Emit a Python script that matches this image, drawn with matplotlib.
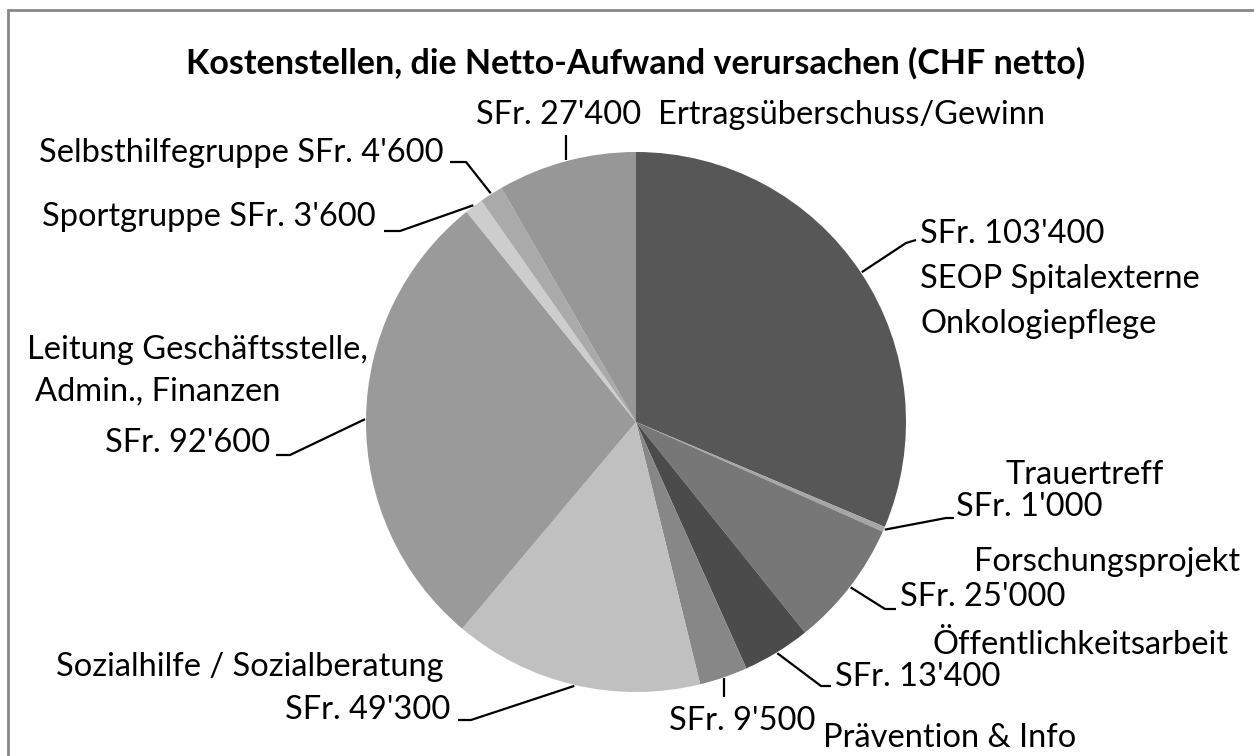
import matplotlib.pyplot as plt
from matplotlib.patches import Rectangle
import numpy as np

plt.rcParams['font.family'] = ['Lato', 'DejaVu Sans']

names = ["SEOP Spitalexterne Onkologiepflege", "Trauertreff", "Forschungsprojekt",
         "Öffentlichkeitsarbeit", "Prävention & Info", "Sozialhilfe / Sozialberatung",
         "Leitung Geschäftsstelle, Admin., Finanzen", "Sportgruppe", "Selbsthilfegruppe",
         "Ertragsüberschuss/Gewinn"]
values = [103400, 1000, 25000, 13400, 9500, 49300, 92600, 3600, 4600, 27400]
colors = ["#575757", "#a6a6a6", "#777777", "#4b4b4b", "#878787",
          "#c0c0c0", "#9a9a9a", "#cdcdcd", "#aaaaaa", "#979797"]
title = "Kostenstellen, die Netto-Aufwand verursachen (CHF netto)"


def sfr(v):
    return "SFr. " + f"{v:,}".replace(",", "'")


W, H = 1254, 756
fig = plt.figure(figsize=(W / 100, H / 100), dpi=100)
ax = fig.add_axes([0, 0, 1, 1])

cx, cy, r = 636, H - 422, 270
wedges, _ = ax.pie(values, colors=colors, startangle=90, counterclock=False,
                   center=(cx, cy), radius=r, frame=True,
                   wedgeprops=dict(linewidth=0))
ax.set_xlim(0, W)
ax.set_ylim(0, H)
ax.axis('off')

fs = 23.5

# label text lines per wedge: (text, x, y, ha) in image pixel coords (y down)
label_lines = [
    [(sfr(values[0]), 920, 234, 'left'), ("SEOP Spitalexterne", 920, 279, 'left'),
     ("Onkologiepflege", 920, 324, 'left')],
    [(names[1], 1006, 475, 'left'), (sfr(values[1]), 956, 507, 'left')],
    [(names[2], 1240, 562, 'right'), (sfr(values[2]), 900, 597, 'left')],
    [(names[3], 1229, 645, 'right'), (sfr(values[3]), 835, 677, 'left')],
    [(sfr(values[4]), 669, 721, 'left'), (names[4], 823, 738, 'left')],
    [(names[5], 56, 667, 'left'), (sfr(values[5]), 450, 710, 'right')],
    [("Leitung Geschäftsstelle,", 27, 350, 'left'), ("Admin., Finanzen", 35, 392, 'left'),
     (sfr(values[6]), 270, 443, 'right')],
    [(names[7] + " " + sfr(values[7]), 376, 217, 'right')],
    [(names[8] + " " + sfr(values[8]), 444, 153, 'right')],
    [(sfr(values[9]) + "  " + names[9], 476, 115, 'left')],
]

# leader line bend points (image coords), drawn from the wedge edge outwards
leaders = [
    [(906, 243), (916, 240)],
    [(946, 518), (954, 518)],
    [(885, 609), (896, 609)],
    [(821, 686), (831, 686)],
    [(None, 697)],
    [(471, 720), (458, 720)],
    [(290, 455), (276, 455)],
    [(400, 231), (384, 231)],
    [(466, 162), (450, 162)],
    [(None, 135)],
]

for w, lines, pts in zip(wedges, label_lines, leaders):
    ang = np.deg2rad((w.theta1 + w.theta2) / 2)
    x0 = cx + (r + 1) * np.cos(ang)
    y0 = cy + (r + 1) * np.sin(ang)
    xs, ys = [x0], [y0]
    for px, py in pts:
        xs.append(x0 if px is None else px)
        ys.append(H - py)
    ax.plot(xs, ys, color='black', lw=1.6, solid_capstyle='butt')
    for txt, tx, ty, ha in lines:
        ax.text(tx, H - ty, txt, ha=ha, va='center', fontsize=fs, color='black')

ax.text(636, H - 63, title, ha='center', va='center', fontsize=24.5,
        fontweight='bold', color='black')

fig.patches.append(Rectangle((8, -20), W + 40, H - 10 + 20, transform=None,
                             fill=False, edgecolor='#888888', linewidth=2))

fig.savefig('out.png', dpi=100, facecolor='white')
